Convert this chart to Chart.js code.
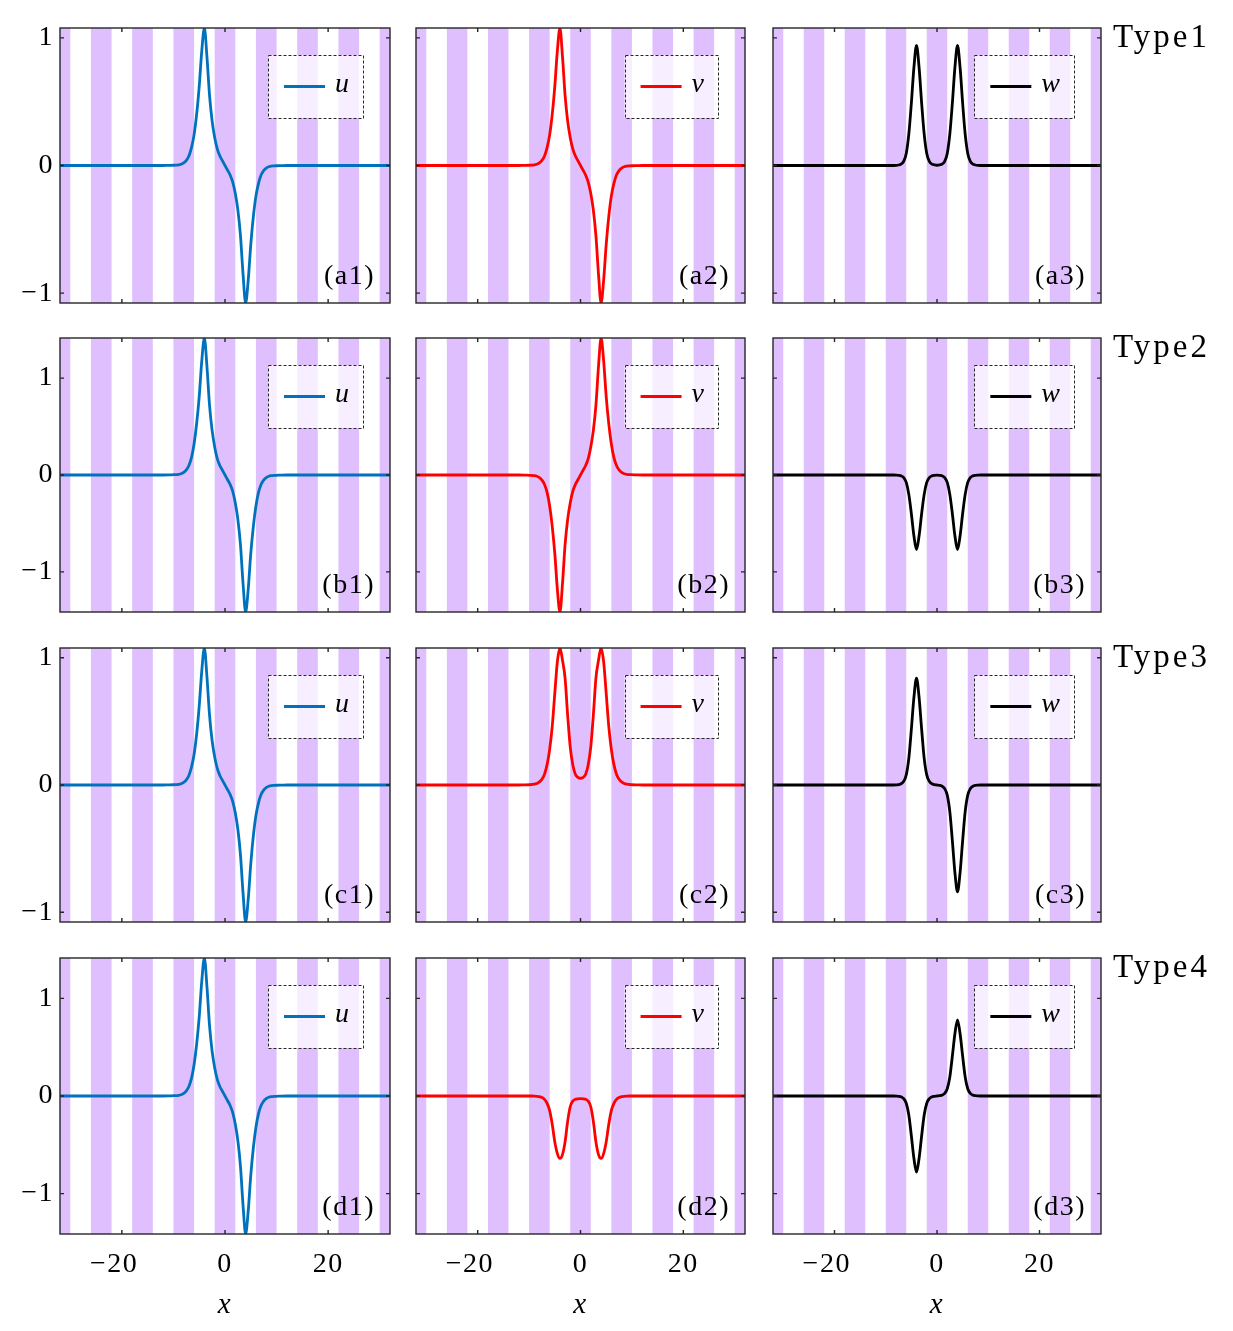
<!DOCTYPE html>
<html>
<head>
<meta charset="utf-8">
<script src="https://cdn.jsdelivr.net/npm/chart.js@4.4.1/dist/chart.umd.min.js"></script>
<style>
  html, body { margin: 0; padding: 0; background: #fff; }
  #wrap { position: relative; width: 1233px; height: 1331px; overflow: hidden; }
  #wrap canvas { position: absolute; }
</style>
</head>
<body>
<div id="wrap"></div>
<script>
var xs = [-32, -24, -16, -12, -11,
  -10, -9.5, -9, -8.5, -8, -7.5, -7, -6.5, -6, -5.5,
  -5, -4.5, -4, -3.5, -3, -2.5, -2, -1.5, -1, -0.5,
  0,
  0.5, 1, 1.5, 2, 2.5, 3, 3.5, 4, 4.5, 5,
  5.5, 6, 6.5, 7, 7.5, 8, 8.5, 9, 9.5, 10,
  11, 12, 16, 24, 32];

var stripeCenters = [-32, -24, -16, -8, 0, 8, 16, 24, 32];
var xTicks = [-20, 0, 20];
var yTicks = [-1, 0, 1];
var rowLimits = [1.077, 1.414, 1.077, 1.414];
var typeNames = ['Type1', 'Type2', 'Type3', 'Type4'];
var rowLetters = ['a', 'b', 'c', 'd'];
var seriesNames = ['u', 'v', 'w'];

var uType1 = [0, 0, 0, 0, 0.001,
  0.002, 0.003, 0.005, 0.01, 0.02, 0.04, 0.075, 0.14, 0.24, 0.40,
  0.62, 0.90, 1.077, 0.85, 0.55, 0.35, 0.22, 0.13, 0.075, 0.037,
  0,
  -0.037, -0.075, -0.13, -0.22, -0.35, -0.55, -0.85, -1.077, -0.90, -0.62,
  -0.40, -0.24, -0.14, -0.075, -0.04, -0.02, -0.01, -0.005, -0.003, -0.002,
  -0.001, 0, 0, 0, 0];
var vType1 = [0, 0, 0, 0, 0.001,
  0.002, 0.003, 0.005, 0.01, 0.02, 0.04, 0.075, 0.14, 0.24, 0.40,
  0.62, 0.90, 1.077, 0.85, 0.55, 0.35, 0.22, 0.13, 0.075, 0.037,
  0,
  -0.037, -0.075, -0.13, -0.22, -0.35, -0.55, -0.85, -1.077, -0.90, -0.62,
  -0.40, -0.24, -0.14, -0.075, -0.04, -0.02, -0.01, -0.005, -0.003, -0.002,
  -0.001, 0, 0, 0, 0];
var wType1 = [0, 0, 0, 0, 0,
  0, 0, 0, 0, 0.001, 0.004, 0.011, 0.033, 0.094, 0.245,
  0.49, 0.77, 0.94, 0.77, 0.49, 0.245, 0.094, 0.033, 0.011, 0.005,
  0.002,
  0.005, 0.011, 0.033, 0.094, 0.245, 0.49, 0.77, 0.94, 0.77, 0.49,
  0.245, 0.094, 0.033, 0.011, 0.004, 0.001, 0, 0, 0, 0,
  0, 0, 0, 0, 0];

var uType2 = [0, 0, 0, 0, 0.001,
  0.003, 0.004, 0.007, 0.013, 0.026, 0.053, 0.098, 0.18, 0.32, 0.53,
  0.81, 1.18, 1.414, 1.12, 0.72, 0.46, 0.29, 0.17, 0.098, 0.049,
  0,
  -0.049, -0.098, -0.17, -0.29, -0.46, -0.72, -1.12, -1.414, -1.18, -0.81,
  -0.53, -0.32, -0.18, -0.098, -0.053, -0.026, -0.013, -0.007, -0.004, -0.003,
  -0.001, 0, 0, 0, 0];
var vType2 = [0, 0, 0, 0, -0.001,
  -0.003, -0.004, -0.007, -0.013, -0.026, -0.053, -0.098, -0.18, -0.32, -0.53,
  -0.81, -1.18, -1.414, -1.12, -0.72, -0.46, -0.29, -0.17, -0.098, -0.049,
  0,
  0.049, 0.098, 0.17, 0.29, 0.46, 0.72, 1.12, 1.414, 1.18, 0.81,
  0.53, 0.32, 0.18, 0.098, 0.053, 0.026, 0.013, 0.007, 0.004, 0.003,
  0.001, 0, 0, 0, 0];
var wType2 = [0, 0, 0, 0, 0,
  0, 0, 0, 0, -0.001, -0.003, -0.009, -0.027, -0.077, -0.20,
  -0.40, -0.63, -0.77, -0.63, -0.40, -0.20, -0.077, -0.027, -0.009, -0.004,
  -0.002,
  -0.004, -0.009, -0.027, -0.077, -0.20, -0.40, -0.63, -0.77, -0.63, -0.40,
  -0.20, -0.077, -0.027, -0.009, -0.003, -0.001, 0, 0, 0, 0,
  0, 0, 0, 0, 0];

var uType3 = [0, 0, 0, 0, 0.001,
  0.002, 0.003, 0.005, 0.01, 0.02, 0.04, 0.075, 0.14, 0.24, 0.40,
  0.62, 0.90, 1.077, 0.85, 0.55, 0.35, 0.22, 0.13, 0.075, 0.037,
  0,
  -0.037, -0.075, -0.13, -0.22, -0.35, -0.55, -0.85, -1.077, -0.90, -0.62,
  -0.40, -0.24, -0.14, -0.075, -0.04, -0.02, -0.01, -0.005, -0.003, -0.002,
  -0.001, 0, 0, 0, 0];
var vType3 = [0, 0, 0, 0, 0.001,
  0.002, 0.004, 0.006, 0.012, 0.024, 0.045, 0.085, 0.16, 0.28, 0.46,
  0.72, 0.97, 1.077, 0.98, 0.84, 0.55, 0.30, 0.16, 0.085, 0.06,
  0.053,
  0.06, 0.085, 0.16, 0.30, 0.55, 0.84, 0.98, 1.077, 0.97, 0.72,
  0.46, 0.28, 0.16, 0.085, 0.045, 0.024, 0.012, 0.006, 0.004, 0.002,
  0.001, 0, 0, 0, 0];
var wType3 = [0, 0, 0, 0, 0,
  0, 0, 0, 0, 0.001, 0.003, 0.01, 0.029, 0.08, 0.21,
  0.44, 0.69, 0.84, 0.69, 0.44, 0.21, 0.08, 0.029, 0.01, 0.003,
  0,
  -0.003, -0.01, -0.029, -0.08, -0.21, -0.44, -0.69, -0.84, -0.69, -0.44,
  -0.21, -0.08, -0.029, -0.01, -0.003, -0.001, 0, 0, 0, 0,
  0, 0, 0, 0, 0];

var uType4 = [0, 0, 0, 0, 0.001,
  0.003, 0.004, 0.007, 0.013, 0.026, 0.053, 0.098, 0.18, 0.32, 0.53,
  0.81, 1.18, 1.414, 1.12, 0.72, 0.46, 0.29, 0.17, 0.098, 0.049,
  0,
  -0.049, -0.098, -0.17, -0.29, -0.46, -0.72, -1.12, -1.414, -1.18, -0.81,
  -0.53, -0.32, -0.18, -0.098, -0.053, -0.026, -0.013, -0.007, -0.004, -0.003,
  -0.001, 0, 0, 0, 0];
var vType4 = [0, 0, 0, 0, 0,
  0, 0, -0.001, -0.003, -0.007, -0.016, -0.035, -0.075, -0.15, -0.29,
  -0.47, -0.59, -0.64, -0.60, -0.47, -0.26, -0.11, -0.052, -0.034, -0.029,
  -0.027,
  -0.029, -0.034, -0.052, -0.11, -0.26, -0.47, -0.60, -0.64, -0.59, -0.47,
  -0.29, -0.15, -0.075, -0.035, -0.016, -0.007, -0.003, -0.001, 0, 0,
  0, 0, 0, 0, 0];
var wType4 = [0, 0, 0, 0, 0,
  0, 0, 0, 0, -0.001, -0.003, -0.009, -0.027, -0.074, -0.195,
  -0.41, -0.64, -0.78, -0.64, -0.41, -0.195, -0.074, -0.027, -0.009, -0.003,
  0,
  0.003, 0.009, 0.027, 0.074, 0.195, 0.41, 0.64, 0.78, 0.64, 0.41,
  0.195, 0.074, 0.027, 0.009, 0.003, 0.001, 0, 0, 0, 0,
  0, 0, 0, 0, 0];

var series = [
  [uType1, vType1, wType1],
  [uType2, vType2, wType2],
  [uType3, vType3, wType3],
  [uType4, vType4, wType4],
];

var lineColors = ['#0072bd', '#ff0000', '#000000'];
var stripeColor = '#dfbffd';
var frameColor = '#262626';
var serif = '"Liberation Serif", "Times New Roman", serif';

// plot-area placement on the page
var colLeft = [60, 416, 773];
var colRight = [390, 745, 1101];
var rowTop = [28, 338, 648, 958];
var rowBottom = [303, 612, 922, 1234];
var padTop = 26;
var yAxisW = 60;
var xAxisH = 100;
var padRight = [10, 10, 132];

function fmtY(v) {
  return v < 0 ? '\u2212' + Math.abs(v) : '' + v;
}

// minus sticks out to the left, digits stay centred on the tick
function fmtX(v) {
  return v < 0 ? '\u2212' + Math.abs(v) + '\u2002' : '' + v;
}

var decorPlugin = {
  id: 'decor',
  beforeDraw: function (chart) {
    chart.ctx.letterSpacing = '1.5px';
  },
  afterDatasetsDraw: function (chart, args, opts) {
    var ctx = chart.ctx;
    var a = chart.chartArea;
    var sx = chart.scales.x;
    var sy = chart.scales.y;
    ctx.save();

    // frame with inward ticks
    ctx.strokeStyle = frameColor;
    ctx.lineWidth = 1.4;
    ctx.strokeRect(a.left, a.top, a.right - a.left, a.bottom - a.top);
    ctx.beginPath();
    sx.ticks.forEach(function (t) {
      var px = sx.getPixelForValue(t.value);
      ctx.moveTo(px, a.bottom);
      ctx.lineTo(px, a.bottom - 4);
      ctx.moveTo(px, a.top);
      ctx.lineTo(px, a.top + 4);
    });
    sy.ticks.forEach(function (t) {
      var py = sy.getPixelForValue(t.value);
      ctx.moveTo(a.left, py);
      ctx.lineTo(a.left + 4, py);
      ctx.moveTo(a.right, py);
      ctx.lineTo(a.right - 4, py);
    });
    ctx.stroke();

    // legend box
    var ds = chart.data.datasets[1];
    ctx.letterSpacing = '0px';
    ctx.font = 'italic 28px ' + serif;
    var tw = ctx.measureText(ds.label).width;
    var bw = 16 + 41 + 10 + tw + 14;
    var bh = 63;
    var bx = a.right - 27 - bw;
    var by = a.top + 27;
    ctx.fillStyle = 'rgba(255,255,255,0.75)';
    ctx.fillRect(bx, by, bw, bh);
    ctx.setLineDash([3, 2]);
    ctx.lineWidth = 1;
    ctx.strokeStyle = frameColor;
    ctx.strokeRect(Math.round(bx) + 0.5, by + 0.5, Math.round(bw), bh);
    ctx.setLineDash([]);
    ctx.strokeStyle = ds.borderColor;
    ctx.lineWidth = ds.borderWidth;
    ctx.beginPath();
    ctx.moveTo(bx + 16, by + bh / 2);
    ctx.lineTo(bx + 57, by + bh / 2);
    ctx.stroke();
    ctx.fillStyle = '#000';
    ctx.textBaseline = 'middle';
    ctx.textAlign = 'left';
    ctx.fillText(ds.label, bx + 67, by + bh / 2 - 2);

    // panel tag
    ctx.letterSpacing = '1.5px';
    ctx.font = '28px ' + serif;
    ctx.textAlign = 'right';
    ctx.fillText(opts.tag, a.right - 15, a.bottom - 26);

    // row type label
    if (opts.typeLabel) {
      ctx.letterSpacing = '3px';
      ctx.font = '33px ' + serif;
      ctx.textAlign = 'left';
      ctx.textBaseline = 'alphabetic';
      ctx.fillText(opts.typeLabel, a.right + 12, a.top + 19);
    }
    ctx.restore();
  }
};

var wrap = document.getElementById('wrap');

function makePanel(r, c) {
  var lim = rowLimits[r];
  var plotW = colRight[c] - colLeft[c];
  var plotH = rowBottom[r] - rowTop[r];
  var w = yAxisW + plotW + padRight[c];
  var h = padTop + plotH + xAxisH;
  var cv = document.createElement('canvas');
  cv.width = w;
  cv.height = h;
  cv.style.left = (colLeft[c] - yAxisW) + 'px';
  cv.style.top = (rowTop[r] - padTop) + 'px';
  cv.style.width = w + 'px';
  cv.style.height = h + 'px';
  wrap.appendChild(cv);

  var vals = series[r][c];
  var points = xs.map(function (x, i) {
    return { x: x, y: vals[i] };
  });
  var stripes = stripeCenters.map(function (x) {
    return { x: x, y: [-lim, lim] };
  });
  var isBottom = r === 3;

  new Chart(cv, {
    type: 'line',
    data: {
      datasets: [{
        type: 'bar',
        data: stripes,
        backgroundColor: stripeColor,
        borderWidth: 0,
        barPercentage: 1,
        categoryPercentage: 0.5,
        order: 2,
      }, {
        type: 'line',
        label: seriesNames[c],
        data: points,
        borderColor: lineColors[c],
        borderWidth: 2.8,
        pointRadius: 0,
        cubicInterpolationMode: 'monotone',
        fill: false,
        order: 1,
      }],
    },
    plugins: [decorPlugin],
    options: {
      responsive: false,
      devicePixelRatio: 1,
      animation: false,
      events: [],
      layout: {
        padding: { top: padTop, right: padRight[c], bottom: 0, left: 0 },
      },
      plugins: {
        legend: { display: false },
        tooltip: { enabled: false },
        decor: {
          tag: '(' + rowLetters[r] + (c + 1) + ')',
          typeLabel: c === 2 ? typeNames[r] : null,
        },
      },
      scales: {
        x: {
          type: 'linear',
          min: -32,
          max: 32,
          offset: false,
          grid: { display: false, drawTicks: false, offset: false },
          border: { display: false },
          afterBuildTicks: function (s) {
            s.ticks = xTicks.map(function (v) { return { value: v }; });
          },
          afterFit: function (s) { s.height = xAxisH; },
          ticks: {
            display: isBottom,
            padding: 14,
            color: '#000',
            maxRotation: 0,
            autoSkip: false,
            font: { family: serif, size: 28 },
            callback: fmtX,
          },
          title: {
            display: isBottom,
            text: 'x',
            color: '#000',
            font: { family: serif, size: 29, style: 'italic' },
            padding: { top: 0, bottom: 11 },
          },
        },
        y: {
          type: 'linear',
          min: -lim,
          max: lim,
          offset: false,
          grid: { display: false, drawTicks: false, offset: false },
          border: { display: false },
          afterBuildTicks: function (s) {
            s.ticks = yTicks.map(function (v) { return { value: v }; });
          },
          afterFit: function (s) { s.width = yAxisW; },
          ticks: {
            display: c === 0,
            padding: 6,
            color: '#000',
            font: { family: serif, size: 28 },
            callback: fmtY,
          },
        },
      },
    },
  });
}

for (var r = 0; r < 4; ++r) {
  for (var c = 0; c < 3; ++c) {
    makePanel(r, c);
  }
}
</script>
</body>
</html>
